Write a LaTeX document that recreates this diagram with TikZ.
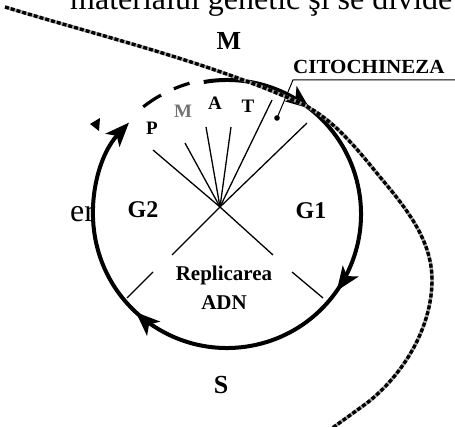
\documentclass[tikz,border=0pt]{standalone}
\usepackage{fontspec}
\setmainfont{Liberation Serif}
\usetikzlibrary{arrows.meta,decorations.markings}
\tikzset{
  cyctip/.tip={Stealth[length=24pt,width=19pt,inset=6pt]},
  bigtxt/.style={font=\fontsize{32}{32}\selectfont, inner sep=0pt, anchor=base west},
  lblbig/.style={font=\fontsize{26}{26}\selectfont\bfseries, inner sep=0pt, anchor=base},
  lbl/.style={font=\fontsize{24}{24}\selectfont\bfseries, inner sep=0pt, anchor=base},
  lblrep/.style={font=\fontsize{21}{21}\selectfont\bfseries, inner sep=0pt, anchor=base},
  lblsm/.style={font=\fontsize{19}{19}\selectfont\bfseries, inner sep=0pt, anchor=base},
  ray/.style={line width=1.3pt},
  cycle/.style={line width=4pt, -cyctip,
    postaction={decorate},
    decoration={markings,
      mark=at position 0.149 with {\arrow{cyctip}},
      mark=at position 0.418 with {\arrow{cyctip}},
      mark=at position 0.721 with {\arrow{cyctip}}}},
  dashpiece/.style={line width=3.2pt},
  bigcurve/.style={line width=3.4pt, black, dash pattern=on 4pt off 2pt},
  bigunder/.style={line width=3.4pt, black!35},
}
\begin{document}
\begin{tikzpicture}[x=1pt,y=1pt]
\useasboundingbox (0,0) rectangle (455,-427);
% background text
\node[bigtxt] (toptext) at (70,-10) {materialul genetic şi se divide};
\node[bigtxt] (er) at (70,-222) {er};
% cell cycle circle
\coordinate (C) at (227,-214);
\fill[white] (C) circle[radius=132];
\draw[cycle] ([shift={(100:134)}]C) arc[start angle=100, end angle=-223, radius=134];
\draw[dashpiece] ([shift={(128:136)}]C) arc[start angle=128, end angle=119, radius=136];
\draw[dashpiece] ([shift={(113:136)}]C) arc[start angle=113, end angle=106, radius=136];
\fill (90,-124) -- (100,-118) -- (99,-131) -- cycle;
% rays
\coordinate (O) at (220,-207);
\coordinate (r1) at (153,-150);
\coordinate (r2) at (185,-143);
\coordinate (r3) at (206,-127);
\coordinate (r4) at (231,-127);
\coordinate (r5) at (272,-100);
\coordinate (r6) at (307,-123);
\coordinate (d1) at (172,-255);
\coordinate (d2) at (273,-255);
\coordinate (e1a) at (153,-272);
\coordinate (e1b) at (127,-298);
\coordinate (e2a) at (292,-272);
\coordinate (e2b) at (323,-298);
\foreach \r in {r1,r2,r3,r4,r5,r6,d1,d2} \draw[ray] (O) -- (\r);
\draw[ray] (e1a) -- (e1b);
\draw[ray] (e2a) -- (e2b);
% labels
\node[lblbig] (m) at (229,-50) {M};
\node[lblbig] (s) at (221,-393) {S};
\node[lbl] (g2) at (143,-218) {G2};
\node[lbl] (g1) at (311,-219) {G1};
\node[lblrep] (rep1) at (224,-281) {Replicarea};
\node[lblrep] (rep2) at (224,-310) {ADN};
\node[lblsm] (p) at (152,-135) {P};
\node[lblsm, text=black!55] (mm) at (183,-118) {M};
\node[lblsm] (a) at (215,-110) {A};
\node[lblsm] (t) at (248,-113) {T};
% citochineza
\node[font=\fontsize{20}{20}\selectfont\bfseries, inner sep=0pt, anchor=base west, xscale=1.05] (cit) at (293,-74) {CITOCHINEZA};
\fill (277,-118) circle[radius=2.8];
\coordinate (dot) at (277,-118);
\coordinate (bend) at (293,-80);
\coordinate (lend) at (456,-80);
\draw[line width=1pt] (dot) -- (bend) -- (lend);
% big overlay curve
\coordinate (b0) at (5,-7);
\coordinate (b1) at (300,-103);
\coordinate (b2) at (380,-177);
\coordinate (b3) at (432,-280);
\coordinate (b4) at (367,-403);
\coordinate (b5) at (331,-429);
\foreach \s in {bigunder,bigcurve}
\draw[\s] (b0) .. controls (103,-37) and (206,-61) .. (b1)
  .. controls (333,-118) and (357,-149) .. (b2)
  .. controls (406,-208) and (432,-240) .. (b3)
  .. controls (432,-327) and (404,-374) .. (b4)
  -- (b5);
\end{tikzpicture}
\end{document}
